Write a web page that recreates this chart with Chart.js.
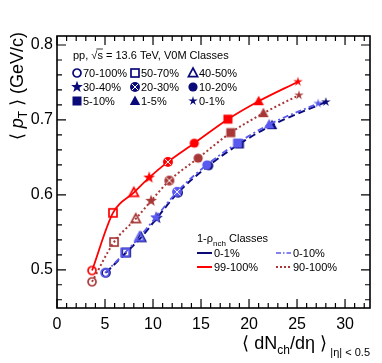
<!DOCTYPE html>
<html><head><meta charset="utf-8">
<script src="https://cdn.jsdelivr.net/npm/chart.js@4/dist/chart.umd.min.js"></script>
<style>html,body{margin:0;padding:0;background:#fff;}#wrap{width:382px;height:363px;}</style>
</head><body><div id="wrap"><canvas id="c" width="382" height="363"></canvas></div>
<script>
// ---- data ----
const classes = ['70-100%','50-70%','40-50%','30-40%','20-30%','10-20%','5-10%','1-5%','0-1%'];
const markerTypes = ['openCircle','openSquare','openTriangle','star5','flower','circle','square','triangle','smallStar'];
const mult_99_100 = [3.65,5.83,8.0,9.6,11.55,14.3,17.8,21.0,25.1];
const mpt_99_100  = [0.499,0.576,0.603,0.623,0.644,0.669,0.701,0.725,0.751];
const mult_90_100 = [3.65,5.94,8.2,9.8,11.7,14.7,18.1,21.5,25.2];
const mpt_90_100  = [0.484,0.537,0.568,0.592,0.619,0.649,0.683,0.709,0.733];
const mult_0_1    = [5.1,7.2,8.75,10.4,12.6,15.8,19.0,22.4,28.0];
const mpt_0_1     = [0.496,0.523,0.543,0.569,0.603,0.639,0.668,0.693,0.724];
const mult_0_10   = [5.0,7.1,8.6,10.3,12.5,15.6,18.8,22.1,27.2];
const mpt_0_10    = [0.496,0.523,0.544,0.570,0.604,0.640,0.669,0.694,0.722];
const xTicks = [0,5,10,15,20,25,30];
const yTicks = [0.5,0.6,0.7,0.8];

const RED='rgb(255,0,0)', BROWN='rgb(168,56,56)', NAVY='rgb(10,10,120)', LBLUE='rgb(90,90,240)';
const FONT='"Liberation Sans", Arial, Helvetica, sans-serif';

function starPath(g,ro,ri){g.beginPath();for(let i=0;i<10;i++){const r=i%2?ri:ro;const a=-Math.PI/2+i*Math.PI/5;g.lineTo(r*Math.cos(a),r*Math.sin(a));}g.closePath();}
function mk(type,color){
  const s=16,c=document.createElement('canvas');c.width=c.height=s;const g=c.getContext('2d');
  g.translate(s/2,s/2);g.fillStyle=color;g.strokeStyle=color;g.lineWidth=1.7;
  switch(type){
    case 'openCircle':g.beginPath();g.arc(0,0,4,0,Math.PI*2);g.stroke();break;
    case 'openSquare':g.strokeRect(-4,-4,8,8);break;
    case 'openTriangle':g.beginPath();g.moveTo(0,-5);g.lineTo(4.6,3.6);g.lineTo(-4.6,3.6);g.closePath();g.stroke();break;
    case 'star5':starPath(g,6.2,2.6);g.fill();break;
    case 'flower':g.beginPath();g.arc(0,0,5,0,Math.PI*2);g.fill();g.strokeStyle='#fff';g.lineWidth=1;
      g.beginPath();g.moveTo(-3,-3);g.lineTo(3,3);g.moveTo(3,-3);g.lineTo(-3,3);g.stroke();break;
    case 'circle':g.beginPath();g.arc(0,0,4.6,0,Math.PI*2);g.fill();break;
    case 'square':g.fillRect(-4.5,-4.5,9,9);break;
    case 'triangle':g.beginPath();g.moveTo(0,-5.5);g.lineTo(5.2,4);g.lineTo(-5.2,4);g.closePath();g.fill();break;
    case 'smallStar':starPath(g,5,1.7);g.fill();break;
  }
  return c;
}
function pts(xs,ys){return xs.map((x,i)=>({x:x,y:ys[i]}));}
function ds(label,xs,ys,color,dash,width,order){
  return {label:label,data:pts(xs,ys),borderColor:color,borderWidth:width,borderDash:dash,
    pointStyle:markerTypes.map(t=>mk(t,color)),pointRadius:5,pointHoverRadius:5,
    cubicInterpolationMode:'monotone',fill:false,order:order,clip:false};
}

function drawRich(g,segs,x,y,align){
  let w=0;segs.forEach(s=>{g.font=s.font;w+=g.measureText(s.t).width;});
  let cx= align==='right'? x-w : align==='center'? x-w/2 : x;
  segs.forEach(s=>{g.font=s.font;g.fillStyle=s.color||'#000';g.fillText(s.t,cx,y+(s.dy||0));cx+=g.measureText(s.t).width;});
  return w;
}

const deco={id:'deco',afterDraw(chart){
  const g=chart.ctx,a=chart.chartArea,xs=chart.scales.x,ys=chart.scales.y;
  g.save();
  g.strokeStyle='#000';g.lineWidth=1.6;
  g.strokeRect(a.left,a.top,a.right-a.left,a.bottom-a.top);
  g.lineWidth=1.2;g.beginPath();
  for(let v=0;v<=32;v++){const px=xs.getPixelForValue(v);const L=v%5===0?9:5;
    g.moveTo(px,a.bottom);g.lineTo(px,a.bottom-L);g.moveTo(px,a.top);g.lineTo(px,a.top+L);}
  for(let k=23;k<=40;k++){const v=k*0.02;const py=ys.getPixelForValue(v);if(py<a.top||py>a.bottom)continue;const L=(k%5===0)?9:5;
    g.moveTo(a.left,py);g.lineTo(a.left+L,py);g.moveTo(a.right,py);g.lineTo(a.right-L,py);}
  g.stroke();
  g.textBaseline='alphabetic';g.fillStyle='#000';
  // legend 1
  const LF='11px '+FONT;
  drawRich(g,[{t:'pp, √s = 13.6 TeV, V0M Classes',font:LF}],73,59,'left');
  g.font=LF;const sx=73+g.measureText('pp, √').width;const sw=g.measureText('s').width;
  g.lineWidth=0.8;g.beginPath();g.moveTo(sx-1,49);g.lineTo(sx+sw,49);g.stroke();
  const colX=[77,135,193],rowY=[73,87,101];
  classes.forEach((c,i)=>{const cx=colX[i%3],cy=rowY[Math.floor(i/3)];
    const im=mk(markerTypes[i],NAVY);g.drawImage(im,cx-8,cy-8);
    g.fillStyle='#000';g.font=LF;g.fillText(c,cx+6,cy+4);});
  // legend 2
  drawRich(g,[{t:'1-ρ',font:'11px '+FONT},{t:'nch',font:'8px '+FONT,dy:4},{t:' Classes',font:'11px '+FONT}],197,242,'left');
  const L2=[['0-1%',NAVY,[],2,197,253],['0-10%',LBLUE,[5,2,1.5,2],1.6,276,253],['99-100%',RED,[],2,197,267],['90-100%',BROWN,[2,2],2,276,267]];
  L2.forEach(e=>{g.strokeStyle=e[1];g.lineWidth=e[3];g.setLineDash(e[2]);g.beginPath();g.moveTo(e[4],e[5]);g.lineTo(e[4]+15,e[5]);g.stroke();g.setLineDash([]);
    g.fillStyle='#000';g.font='11px '+FONT;g.fillText(e[0],e[4]+17,e[5]+4);});
  // x title
  drawRich(g,[{t:'⟨ dN',font:'18px '+FONT},{t:'ch',font:'12px '+FONT,dy:5},{t:'/dη ⟩',font:'18px '+FONT},{t:' ',font:'12px '+FONT},{t:'|η| < 0.5',font:'11px '+FONT,dy:7}],370,349,'right');
  // y title
  g.save();g.translate(23,32);g.rotate(-Math.PI/2);
  drawRich(g,[{t:'⟨ ',font:'18px '+FONT},{t:'p',font:'italic 18px '+FONT},{t:'T',font:'12px '+FONT,dy:4},{t:' ⟩ (GeV/c)',font:'18px '+FONT}],0,0,'right');
  g.restore();
  g.restore();
}};

new Chart(document.getElementById('c'),{
  type:'line',
  data:{datasets:[
    ds('0-10%',mult_0_10,mpt_0_10,LBLUE,[6,3,2,3],1.8,1),
    ds('0-1%',mult_0_1,mpt_0_1,NAVY,[7,4],2,2),
    ds('90-100%',mult_90_100,mpt_90_100,BROWN,[2,2.5],2,3),
    ds('99-100%',mult_99_100,mpt_99_100,RED,[],1.8,4)
  ]},
  options:{responsive:false,animation:false,devicePixelRatio:1,
    layout:{padding:{left:0,top:36,right:12,bottom:25}},
    plugins:{legend:{display:false},tooltip:{enabled:false}},
    scales:{
      x:{type:'linear',min:0,max:32.6,grid:{display:false,drawTicks:false},border:{display:false},
        afterBuildTicks:s=>{s.ticks=xTicks.map(v=>({value:v}));},
        afterFit:s=>{s.height=30;},
        ticks:{padding:7,color:'#000',font:{family:FONT,size:16},maxRotation:0,callback:v=>String(v)}},
      y:{type:'linear',min:0.449,max:0.812,grid:{display:false,drawTicks:false},border:{display:false},
        afterBuildTicks:s=>{s.ticks=yTicks.map(v=>({value:v}));},
        afterFit:s=>{s.width=57;},
        ticks:{padding:4,color:'#000',font:{family:FONT,size:16},callback:v=>v.toFixed(1)}}
    }
  },
  plugins:[deco]
});
</script></body></html>
